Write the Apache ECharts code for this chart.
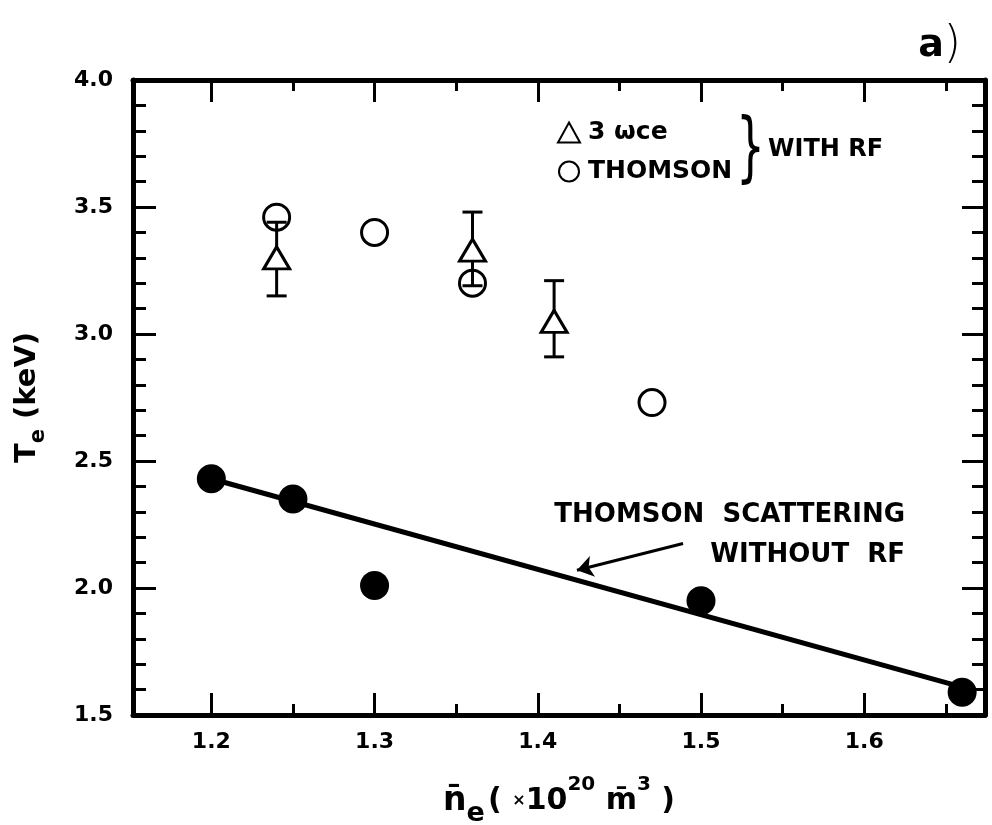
<!DOCTYPE html>
<html>
<head>
<meta charset="utf-8">
<title>Te vs ne</title>
<script src="https://cdn.jsdelivr.net/npm/echarts@6/dist/echarts.min.js"></script>
<style>
  html, body { margin: 0; padding: 0; background: #fff; }
  #chart { width: 992px; height: 825px; }
</style>
</head>
<body>
<div id="chart"></div>
<script>
// tick positions
const xMajorTicks = [1.2, 1.3, 1.4, 1.5, 1.6]
const xMinorTicks = [1.25, 1.35, 1.45, 1.55, 1.65]
const yMajorTicks = [1.5, 2.0, 2.5, 3.0, 3.5, 4.0]
const yMinorTicks = [1.6, 1.7, 1.8, 1.9, 2.1, 2.2, 2.3, 2.4, 2.6, 2.7, 2.8, 2.9,
  3.1, 3.2, 3.3, 3.4, 3.6, 3.7, 3.8, 3.9]

// Thomson scattering without RF (filled dots) + fitted line
const densNoRf = [1.20, 1.25, 1.30, 1.50, 1.66]
const teNoRf = [2.43, 2.35, 2.01, 1.95, 1.59]
const fitDens = [1.20, 1.66]
const fitTe = [2.43, 1.61]

// with RF: Thomson (open circles)
const densThomson = [1.24, 1.30, 1.36, 1.47]
const teThomson = [3.46, 3.40, 3.20, 2.73]

// with RF: 3 omega_ce (open triangles) with error bars
const densEce = [1.24, 1.36, 1.41]
const teEce = [3.30, 3.33, 3.05]
const eceLow = [3.15, 3.19, 2.91]
const eceHigh = [3.44, 3.48, 3.21]

// arrow pointing at the fit line
const arrowFrom = [1.489, 2.175]
const arrowTo = [1.424, 2.070]

const FONT = 'DejaVu Sans'
const chart = echarts.init(document.getElementById('chart'))

const tickLabel = {
  fontFamily: FONT, fontWeight: 'bold', fontSize: 22, color: '#000'
}
const axisLine = { lineStyle: { color: '#000', width: 5 } }

// one axis = one set of inward ticks (major or minor) on one side
function xAxisDef(pos, ticks, len, withLine, withLabel) {
  return {
    type: 'value',
    position: pos,
    min: 1.152,
    max: 1.674,
    axisLine: Object.assign({ show: withLine, onZero: false }, axisLine),
    axisTick: {
      show: true, inside: true, length: len, customValues: ticks,
      lineStyle: { color: '#000', width: 3 }
    },
    axisLabel: withLabel
      ? Object.assign({ customValues: ticks, margin: 16, formatter: v => v.toFixed(1) }, tickLabel)
      : { show: false },
    splitLine: { show: false }
  }
}

function yAxisDef(pos, ticks, len, withLine, withLabel) {
  return {
    type: 'value',
    position: pos,
    min: 1.5,
    max: 4.0,
    axisLine: Object.assign({ show: withLine, onZero: false }, axisLine),
    axisTick: {
      show: true, inside: true, length: len, customValues: ticks,
      lineStyle: { color: '#000', width: 3 }
    },
    axisLabel: withLabel
      ? Object.assign({ customValues: ticks, margin: 20, formatter: v => v.toFixed(1) }, tickLabel)
      : { show: false },
    splitLine: { show: false }
  }
}

const xBottom = xAxisDef('bottom', xMajorTicks, 22, true, true)
xBottom.name = '{n|n̄}{sub|e} {t|( }{x|×}{t|10}{sup|20}{t| m̄}{sup|3}{t| )}'
xBottom.nameLocation = 'middle'
xBottom.nameGap = 60
xBottom.nameTextStyle = {
  rich: {
    n: { fontFamily: FONT, fontWeight: 'bold', fontSize: 33, lineHeight: 52, verticalAlign: 'middle', color: '#000' },
    t: { fontFamily: FONT, fontWeight: 'bold', fontSize: 30, lineHeight: 52, verticalAlign: 'middle', color: '#000' },
    x: { fontFamily: FONT, fontWeight: 'bold', fontSize: 16, lineHeight: 52, verticalAlign: 'middle', color: '#000' },
    sub: { fontFamily: FONT, fontWeight: 'bold', fontSize: 27, lineHeight: 24, verticalAlign: 'bottom', color: '#000' },
    sup: { fontFamily: FONT, fontWeight: 'bold', fontSize: 20, lineHeight: 26, verticalAlign: 'top', color: '#000' }
  }
}

const yLeft = yAxisDef('left', yMajorTicks, 23, true, true)
yLeft.name = '{t|T}{sub|e}{t| (keV)}'
yLeft.nameLocation = 'middle'
yLeft.nameGap = 84
yLeft.nameTextStyle = {
  rich: {
    t: { fontFamily: FONT, fontWeight: 'bold', fontSize: 29, lineHeight: 44, verticalAlign: 'middle', color: '#000' },
    sub: { fontFamily: FONT, fontWeight: 'bold', fontSize: 21, lineHeight: 20, verticalAlign: 'bottom', color: '#000' }
  }
}

const option = {
  backgroundColor: '#fff',
  animation: false,
  title: {
    text: '{a|a}{p|)}',
    right: 26,
    top: 19,
    textStyle: {
      rich: {
        a: { fontFamily: FONT, fontWeight: 'bold', fontSize: 38, color: '#000' },
        p: { fontFamily: FONT, fontWeight: 'lighter', fontSize: 44, color: '#000' }
      }
    }
  },
  grid: { left: 133, right: 7, top: 80, bottom: 110, outerBoundsMode: 'none' },
  legend: {
    orient: 'vertical',
    left: 552,
    top: 115,
    itemGap: 14,
    itemWidth: 22,
    itemHeight: 20,
    data: ['3 ωce', 'THOMSON'],
    textStyle: { fontFamily: FONT, fontWeight: 'bold', fontSize: 25, color: '#000', padding: [0, 0, 0, 3] }
  },
  xAxis: [
    xBottom,
    xAxisDef('bottom', xMinorTicks, 11, false, false),
    xAxisDef('top', xMajorTicks, 22, true, false),
    xAxisDef('top', xMinorTicks, 11, false, false)
  ],
  yAxis: [
    yLeft,
    yAxisDef('left', yMinorTicks, 13, false, false),
    yAxisDef('right', yMajorTicks, 23, true, false),
    yAxisDef('right', yMinorTicks, 13, false, false)
  ],
  graphic: [
    {
      type: 'text', left: 736, top: 114, silent: true, scaleX: 0.6,
      style: { text: '}', font: '76px "DejaVu Sans"', fill: '#000' }
    },
    {
      type: 'text', left: 768, top: 138, silent: true,
      style: { text: 'WITH RF', font: 'bold 24px "DejaVu Sans"', fill: '#000' }
    },
    {
      type: 'text', right: 87, top: 502, silent: true,
      style: { text: 'THOMSON  SCATTERING', font: 'bold 26px "DejaVu Sans"', fill: '#000' }
    },
    {
      type: 'text', right: 87, top: 542, silent: true,
      style: { text: 'WITHOUT  RF', font: 'bold 26px "DejaVu Sans"', fill: '#000' }
    }
  ],
  series: [
    {
      name: 'fit',
      type: 'line',
      data: fitDens.map((x, i) => [x, fitTe[i]]),
      showSymbol: false,
      lineStyle: { color: '#000', width: 5 },
      emphasis: { disabled: true },
      z: 2,
      markLine: {
        silent: true,
        symbol: ['none', 'arrow'],
        symbolSize: 16,
        label: { show: false },
        lineStyle: { color: '#000', width: 3, type: 'solid', curveness: -0.15 },
        data: [[{ coord: arrowFrom }, { coord: arrowTo }]]
      }
    },
    {
      name: 'without RF',
      type: 'scatter',
      data: densNoRf.map((x, i) => [x, teNoRf[i]]),
      symbol: 'circle',
      symbolSize: 29,
      itemStyle: { color: '#000', opacity: 1 },
      emphasis: { disabled: true },
      z: 3
    },
    {
      name: 'THOMSON',
      type: 'scatter',
      data: densThomson.map((x, i) => [x, teThomson[i]]),
      symbol: 'circle',
      symbolSize: 26,
      itemStyle: { color: 'rgba(255,255,255,0)', borderColor: '#000', borderWidth: 3, opacity: 1 },
      emphasis: { disabled: true },
      z: 3
    },
    {
      name: 'error',
      type: 'custom',
      data: densEce.map((x, i) => [x, eceLow[i], eceHigh[i]]),
      z: 4,
      renderItem: function (params, api) {
        const lo = api.coord([api.value(0), api.value(1)])
        const hi = api.coord([api.value(0), api.value(2)])
        const w = 10
        const style = { stroke: '#000', lineWidth: 3 }
        return {
          type: 'group',
          children: [
            { type: 'line', shape: { x1: lo[0], y1: lo[1], x2: hi[0], y2: hi[1] }, style },
            { type: 'line', shape: { x1: lo[0] - w, y1: lo[1], x2: lo[0] + w, y2: lo[1] }, style },
            { type: 'line', shape: { x1: hi[0] - w, y1: hi[1], x2: hi[0] + w, y2: hi[1] }, style }
          ]
        }
      }
    },
    {
      name: '3 ωce',
      type: 'scatter',
      data: densEce.map((x, i) => [x, teEce[i]]),
      symbol: 'triangle',
      symbolSize: [26, 22],
      itemStyle: { color: '#fff', borderColor: '#000', borderWidth: 3, opacity: 1 },
      emphasis: { disabled: true },
      z: 5
    }
  ]
}

chart.setOption(option)
</script>
</body>
</html>
